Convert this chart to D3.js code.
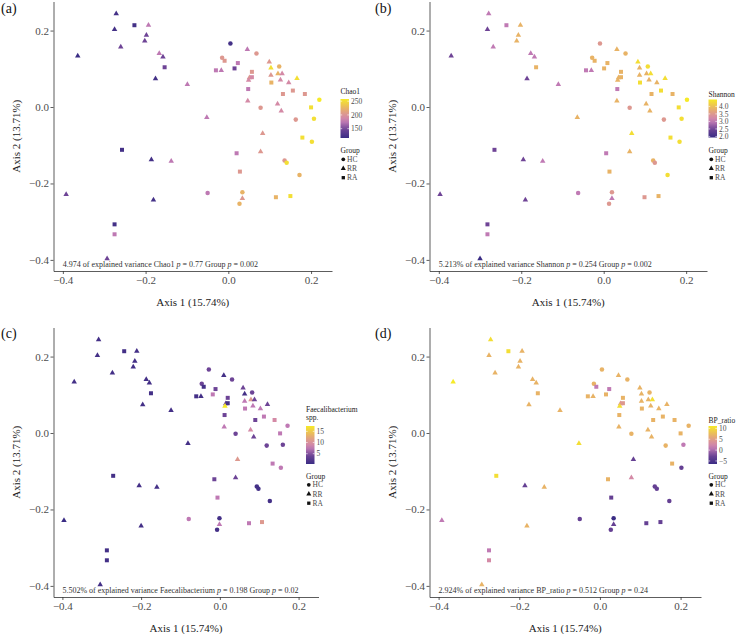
<!DOCTYPE html>
<html>
<head>
<meta charset="utf-8">
<script src="https://cdn.jsdelivr.net/npm/d3@7"></script>
<style>
  body { margin: 0; background: #fff; }
  svg text { font-family: "Liberation Serif", "DejaVu Serif", serif; }
</style>
</head>
<body>
<div id="chart"></div>
<script>
// ---- data ----
const groups = ["RR","RA","RR","RR","RR","RR","RR","RR","RR","RR",
  "RA","RR","RR","RR","RA","RR","RR","RR","RR","RA",
  "RA","RR","HC","HC","RR","HC","HC","RA","RA","RA",
  "RR","RA","RR","HC","RR","RA","RR","RR","RR","RR",
  "RA","RR","RR","RR","RR","RA","RA","RA","RA","RA",
  "HC","RR","RR","RA","HC","RR","HC","HC","RR","RA",
  "HC","RA","RR","HC","HC","RA","HC","HC","RR","HC",
  "RA","RA"];

// axis 1 as drawn in panels (a) and (d)
const pcoa1 = [-0.271,-0.227,-0.193,-0.275,-0.198,-0.202,-0.260,-0.364,-0.167,-0.158,
  -0.154,-0.176,-0.099,-0.052,-0.257,-0.186,-0.138,-0.392,-0.181,-0.275,
  -0.275,-0.293,-0.050,0.005,0.046,0.068,-0.015,-0.009,0.023,-0.030,
  -0.017,0.015,0.099,0.123,0.103,0.057,0.103,0.120,0.130,0.051,
  0.057,0.049,0.126,0.146,0.166,0.104,0.048,0.156,0.132,0.185,
  0.220,0.047,0.119,0.200,0.078,0.128,0.163,0.207,0.083,0.179,
  0.202,0.020,0.078,0.136,0.141,0.028,0.172,0.034,0.034,0.027,
  0.115,0.150];
// axis 1 as drawn in panel (b)
const pcoa1Shannon = [-0.279,-0.236,-0.202,-0.282,-0.207,-0.211,-0.268,-0.370,-0.177,-0.168,
  -0.164,-0.186,-0.110,-0.064,-0.265,-0.195,-0.148,-0.397,-0.190,-0.282,
  -0.282,-0.300,-0.062,-0.009,0.032,0.053,-0.028,-0.022,0.009,-0.043,
  -0.030,0.001,0.083,0.107,0.087,0.042,0.087,0.104,0.114,0.036,
  0.042,0.034,0.110,0.129,0.149,0.088,0.033,0.139,0.116,0.167,
  0.202,0.032,0.103,0.182,0.063,0.112,0.146,0.189,0.068,0.162,
  0.184,0.006,0.063,0.120,0.124,0.014,0.155,0.020,0.020,0.013,
  0.099,0.133];
// axis 1 as drawn in panel (c)
const pcoa1Faecal = [-0.308,-0.243,-0.211,-0.311,-0.216,-0.220,-0.273,-0.370,-0.187,-0.179,
  -0.175,-0.196,-0.124,-0.081,-0.271,-0.205,-0.160,-0.396,-0.200,-0.287,
  -0.287,-0.304,-0.079,-0.028,0.010,0.031,-0.046,-0.041,-0.011,-0.060,
  -0.048,-0.018,0.059,0.082,0.063,0.020,0.063,0.079,0.088,0.015,
  0.020,0.013,0.084,0.103,0.121,0.064,0.012,0.112,0.090,0.139,
  0.172,0.011,0.078,0.153,0.040,0.086,0.119,0.160,0.045,0.134,
  0.155,-0.014,0.040,0.094,0.098,-0.006,0.127,-0.001,-0.001,-0.007,
  0.074,0.107];
const pcoa2 = [0.244,0.214,0.214,0.203,0.188,0.173,0.157,0.134,0.140,0.131,
  0.104,0.074,0.059,-0.027,-0.112,-0.138,-0.142,-0.229,-0.243,-0.307,
  -0.333,-0.397,-0.225,0.166,0.151,0.140,0.129,0.121,0.115,0.096,
  0.096,0.101,0.118,0.106,0.102,0.092,0.083,0.087,0.087,0.077,
  0.078,0.070,0.071,0.064,0.075,0.064,0.047,0.043,0.034,0.034,
  0.019,0.016,0.008,-0.001,-0.002,-0.010,-0.033,-0.031,-0.069,-0.080,
  -0.091,-0.121,-0.117,-0.140,-0.146,-0.169,-0.178,-0.223,-0.239,-0.253,
  -0.236,-0.233];

const chao1 = [122,122,175,122,147,147,147,116,175,147,
  147,122,175,175,122,122,175,147,122,122,
  175,147,175,122,175,204,204,204,175,175,
  175,147,204,224,251,204,204,224,190,204,
  190,190,190,190,251,224,175,204,204,204,
  258,190,190,251,204,190,204,251,204,251,
  251,175,204,204,251,204,224,224,204,224,
  224,251];
const shannon = [2.99,2.99,3.85,2.49,3.85,3.85,2.99,2.49,2.99,2.99,
  3.85,2.49,2.99,3.85,2.49,2.49,2.99,2.49,2.49,2.49,
  2.99,1.93,2.99,3.5,3.85,3.85,3.85,3.85,3.85,2.99,
  2.99,3.85,4.33,4.33,3.85,3.85,3.85,3.85,4.33,3.85,
  3.85,3.85,3.85,3.85,4.33,4.33,2.99,4.33,3.85,3.85,
  4.46,3.85,3.85,4.33,3.5,3.85,3.5,4.33,4.33,4.33,
  4.33,2.99,3.85,3.85,3.5,3.85,4.33,3.5,2.99,3.5,
  3.5,3.85];
const faecal = [1.1,1.1,1.1,1.1,1.1,1.1,1.1,1.1,1.1,1.1,
  1.1,1.1,1.1,1.1,1.1,1.1,1.1,0.4,1.1,1.1,
  1.1,1.1,7.5,4.1,1.1,4.1,4.1,1.1,4.1,1.1,
  1.1,7.5,4.1,4.1,1.1,4.1,7.5,11.0,4.1,4.1,
  1.1,17.4,7.5,7.5,4.1,7.5,4.1,7.5,4.1,9.2,
  7.5,7.5,9.2,7.5,4.1,4.1,4.1,4.1,11.0,7.5,
  7.5,4.1,4.1,1.1,1.1,7.5,1.1,1.1,7.5,1.1,
  7.5,11.0];
const bpRatio = [10.2,10.2,6.9,6.9,6.9,6.9,6.9,11.1,6.9,6.9,
  6.9,6.9,6.9,10.2,10.2,-3.2,6.9,0.95,6.9,0.95,
  2.7,6.9,-3.2,6.9,6.9,6.9,6.9,0.95,0.95,6.9,
  6.9,6.9,6.9,6.9,6.9,6.9,6.9,6.9,10.2,4.45,
  4.45,10.2,6.9,6.9,6.9,6.9,6.9,6.9,6.9,6.9,
  6.9,6.9,6.9,6.9,6.9,6.9,6.9,0.95,-3.2,6.9,
  -3.2,6.9,2.7,-3.2,-3.2,-3.2,-3.2,-6.4,-3.2,-3.2,
  -3.2,-3.2];

const xTicks = [-0.4, -0.2, 0, 0.2];
const yTicks = [-0.4, -0.2, 0, 0.2];
const chao1Ticks = [150, 200, 250];
const shannonTicks = [2, 2.5, 3, 3.5, 4];
const faecalTicks = [5, 10, 15];
const bpTicks = [-5, 0, 5, 10];
const groupLevels = ["HC", "RR", "RA"];

const panelLabels = ["(a)", "(b)", "(c)", "(d)"];
const varNames = ["Chao1", "Shannon", "Faecalibacterium", "BP_ratio"];
const legendTitles = [["Chao1"], ["Shannon"], ["Faecalibacterium", "spp."], ["BP_ratio"]];
const explained = ["4.974", "5.213%", "5.502%", "2.924%"];
const pVar = ["0.77", "0.254", "0.198", "0.512"];
const pGroup = ["0.002", "0.002", "0.02", "0.24"];

// ---- layout ----
const W = 736, H = 634;
const FONT = "Liberation Serif, DejaVu Serif, serif";
const layout = [
  {x0: 53.5, x1: 332, y0: 1.5, y1: 271, labX: 1, labY: 13, legX: 340.5, legY: 94, barY: 99, barH: 39, groupY: 153},
  {x0: 429.5, x1: 707, y0: 1.5, y1: 271, labX: 375, labY: 13, legX: 708.5, legY: 96.5, barY: 99.5, barH: 38, groupY: 153},
  {x0: 53.5, x1: 318.5, y0: 327.5, y1: 597, labX: 1, labY: 338, legX: 306, legY: 411.5, barY: 426, barH: 38, groupY: 478.5},
  {x0: 429.5, x1: 701, y0: 327.5, y1: 597, labX: 375, labY: 338, legX: 708.5, legY: 423, barY: 426, barH: 38, groupY: 478.5}
];
const panelX = [pcoa1, pcoa1Shannon, pcoa1Faecal, pcoa1];
const panelVals = [chao1, shannon, faecal, bpRatio];
const panelTicks = [chao1Ticks, shannonTicks, faecalTicks, bpTicks];
const panelFmt = [d3.format("d"), d3.format(".1f"), d3.format("d"), d3.format("d")];

const pad = (ext) => { const r = ext[1] - ext[0]; return [ext[0] - r * 0.05, ext[1] + r * 0.05]; };
const xDomain = pad(d3.extent(pcoa1));
const yDomain = pad(d3.extent(pcoa2));

const rampT = [0, 0.22, 0.42, 0.52, 0.62, 0.76, 1];
const rampC = ["#3a2c84", "#6e4496", "#c07ab4", "#d48aa6", "#dd9890", "#e8b366", "#f6ea28"];
const ramp = d3.scaleLinear().domain(rampT).range(rampC).interpolate(d3.interpolateRgb).clamp(true);

const shapes = {HC: d3.symbolCircle, RR: d3.symbolTriangle, RA: d3.symbolSquare};
const sizes = {HC: 16, RR: 13, RA: 16};

const svg = d3.select("#chart").append("svg")
  .attr("width", W).attr("height", H)
  .style("background", "#fff");

const defs = svg.append("defs");

layout.forEach((L, p) => {
  const xs = panelX[p], vals = panelVals[p];
  const g = svg.append("g");

  const x = d3.scaleLinear().domain(xDomain).range([L.x0, L.x1]);
  const y = d3.scaleLinear().domain(yDomain).range([L.y1, L.y0]);

  const ext = d3.extent(vals);
  const colorT = d3.scaleLinear().domain(ext).range([0, 1]);
  const color = v => ramp(colorT(v));

  // axes
  const xAxis = g.append("g")
    .attr("transform", `translate(0,${L.y1})`)
    .call(d3.axisBottom(x).tickValues(xTicks).tickFormat(d3.format(".1f"))
      .tickSizeInner(3).tickSizeOuter(0).tickPadding(2.5));
  const yAxis = g.append("g")
    .attr("transform", `translate(${L.x0},0)`)
    .call(d3.axisLeft(y).tickValues(yTicks).tickFormat(d3.format(".1f"))
      .tickSizeInner(3).tickSizeOuter(0).tickPadding(1.5));
  [xAxis, yAxis].forEach(a => {
    a.attr("font-size", 11).attr("font-family", FONT);
    a.select(".domain").attr("stroke", "#333").attr("stroke-width", 0.8);
    a.selectAll(".tick line").attr("stroke", "#333").attr("stroke-width", 0.8);
    a.selectAll(".tick text").attr("fill", "#4d4d4d");
  });

  g.append("text")
    .attr("x", (L.x0 + L.x1) / 2).attr("y", L.y1 + 35)
    .attr("text-anchor", "middle").attr("font-size", 11).attr("fill", "#222")
    .text("Axis 1 (15.74%)");
  g.append("text")
    .attr("transform", `translate(${L.x0 - 34},${(L.y0 + L.y1) / 2}) rotate(-90)`)
    .attr("text-anchor", "middle").attr("font-size", 11).attr("fill", "#222")
    .text("Axis 2 (13.71%)");

  g.append("text")
    .attr("x", L.labX).attr("y", L.labY)
    .attr("font-size", 14).attr("fill", "#111")
    .text(panelLabels[p]);

  // points
  g.append("g").selectAll("path")
    .data(d3.range(groups.length))
    .join("path")
    .attr("transform", i => `translate(${x(xs[i])},${y(pcoa2[i])})`)
    .attr("d", i => d3.symbol(shapes[groups[i]], sizes[groups[i]])())
    .attr("fill", i => color(vals[i]));

  // note under the points
  const note = g.append("text")
    .attr("x", x(-0.4)).attr("y", y(-0.41)).attr("dy", "0.35em")
    .attr("font-size", 8).attr("fill", "#333");
  note.append("tspan").text(`${explained[p]} of explained variance ${varNames[p]} `);
  note.append("tspan").attr("font-style", "italic").text("p");
  note.append("tspan").text(` = ${pVar[p]} Group `);
  note.append("tspan").attr("font-style", "italic").text("p");
  note.append("tspan").text(` = ${pGroup[p]}`);

  // colour bar legend
  legendTitles[p].forEach((t, k) => {
    g.append("text").attr("x", L.legX).attr("y", L.legY + k * 8.5)
      .attr("font-size", 7.5).attr("fill", "#222").text(t);
  });
  const gradId = "grad" + p;
  const grad = defs.append("linearGradient").attr("id", gradId)
    .attr("x1", 0).attr("y1", 1).attr("x2", 0).attr("y2", 0);
  d3.range(0, 1.0001, 0.1).forEach(t => {
    grad.append("stop").attr("offset", t).attr("stop-color", ramp(t));
  });
  const barW = 8.5;
  g.append("rect").attr("x", L.legX).attr("y", L.barY)
    .attr("width", barW).attr("height", L.barH).attr("fill", `url(#${gradId})`);
  const barScale = d3.scaleLinear().domain(ext).range([L.barY + L.barH, L.barY]);
  panelTicks[p].forEach(v => {
    const yy = barScale(v);
    g.append("line").attr("x1", L.legX).attr("x2", L.legX + 1.7).attr("y1", yy).attr("y2", yy)
      .attr("stroke", "#fff").attr("stroke-width", 0.6);
    g.append("line").attr("x1", L.legX + barW - 1.7).attr("x2", L.legX + barW).attr("y1", yy).attr("y2", yy)
      .attr("stroke", "#fff").attr("stroke-width", 0.6);
    g.append("text").attr("x", L.legX + barW + 2).attr("y", yy).attr("dy", "0.35em")
      .attr("font-size", 7.5).attr("fill", "#4d4d4d").text(panelFmt[p](v));
  });

  // shape legend
  g.append("text").attr("x", L.legX).attr("y", L.groupY)
    .attr("font-size", 7.5).attr("fill", "#222").text("Group");
  groupLevels.forEach((lv, k) => {
    const cy = L.groupY + 6.3 + k * 9.2;
    g.append("path").attr("transform", `translate(${L.legX + 2.8},${cy})`)
      .attr("d", d3.symbol(shapes[lv], 11)()).attr("fill", "#111");
    g.append("text").attr("x", L.legX + 6.5).attr("y", cy).attr("dy", "0.35em")
      .attr("font-size", 7.5).attr("fill", "#4d4d4d").text(lv);
  });
});
</script>
</body>
</html>
